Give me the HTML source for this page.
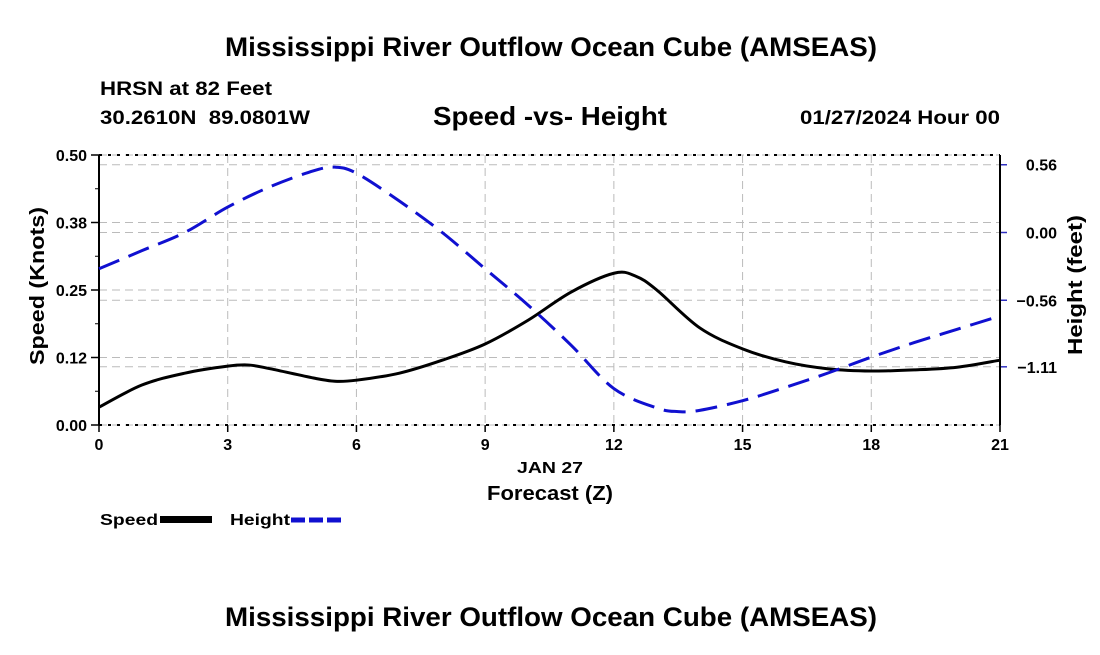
<!DOCTYPE html>
<html><head><meta charset="utf-8"><style>
body{margin:0;background:#fff;font-family:"Liberation Sans",sans-serif;}
svg text{font-family:"Liberation Sans",sans-serif;font-weight:bold;}
</style></head><body>
<svg width="1100" height="650" viewBox="0 0 1100 650">
<text x="225" y="56" font-size="27" textLength="652" lengthAdjust="spacingAndGlyphs">Mississippi River Outflow Ocean Cube (AMSEAS)</text>
<text x="100" y="95" font-size="19" textLength="172" lengthAdjust="spacingAndGlyphs">HRSN at 82 Feet</text>
<text x="100" y="124" font-size="19" textLength="210" lengthAdjust="spacingAndGlyphs" xml:space="preserve">30.2610N  89.0801W</text>
<text x="433" y="125" font-size="26" textLength="234" lengthAdjust="spacingAndGlyphs">Speed -vs- Height</text>
<text x="800" y="124" font-size="19" textLength="200" lengthAdjust="spacingAndGlyphs">01/27/2024 Hour 00</text>
<g id="grid"></g>
<g id="axes"></g>
<g id="series"></g>
<text x="517" y="473" font-size="16" textLength="66" lengthAdjust="spacingAndGlyphs">JAN 27</text>
<text x="487" y="500" font-size="20" textLength="126" lengthAdjust="spacingAndGlyphs">Forecast (Z)</text>
<text transform="translate(44,365) rotate(-90)" font-size="20" textLength="158" lengthAdjust="spacingAndGlyphs">Speed (Knots)</text>
<text transform="translate(1082,355) rotate(-90)" font-size="20" textLength="140" lengthAdjust="spacingAndGlyphs">Height (feet)</text>
<g><text x="100" y="525" font-size="16" textLength="58" lengthAdjust="spacingAndGlyphs">Speed</text><rect x="160" y="516" width="52" height="7" fill="#000"/></g>
<g><text x="230" y="525" font-size="16" textLength="60" lengthAdjust="spacingAndGlyphs">Height</text><line x1="291" y1="520" x2="343" y2="520" stroke="#1010d0" stroke-width="5" stroke-dasharray="14,4"/></g>
<text x="225" y="626" font-size="27" textLength="652" lengthAdjust="spacingAndGlyphs">Mississippi River Outflow Ocean Cube (AMSEAS)</text>
</svg>
<script>
const hours=[0,1,2,3,3.5,4,5,5.5,6,7,8,9,10,11,12,12.5,13,14,15,16,17,18,19,20,21];
const speed=[0.033,0.074,0.096,0.109,0.111,0.104,0.087,0.081,0.083,0.096,0.120,0.150,0.194,0.246,0.281,0.276,0.25,0.18,0.141,0.117,0.104,0.100,0.102,0.107,0.120];
const hHours=[0,1,2,3,4,5,5.5,6,7,8,9,10,11,12,13,13.5,14,15,16,17,18,19,20,21];
const height=[-0.30,-0.15,0,0.21,0.38,0.51,0.54,0.49,0.26,0,-0.30,-0.60,-0.93,-1.29,-1.45,-1.48,-1.47,-1.39,-1.28,-1.16,-1.03,-0.91,-0.80,-0.69];
const xTicks=[0,3,6,9,12,15,18,21];
const yTicks=[0,0.125,0.25,0.375,0.5];
const yTickLabels=["0.00","0.12","0.25","0.38","0.50"];
const y2Ticks=[0.56,0,-0.56,-1.11];
const y2TickLabels=["0.56","0.00","\u22120.56","\u22121.11"];
const L=99,R=1000,T=155,B=425;
const X=h=>L+(R-L)*h/21;
const Y=v=>B-(B-T)*v/0.5;
const Y2=v=>232.5-v*121;
const NS="http://www.w3.org/2000/svg";
function mk(t,a,p){const e=document.createElementNS(NS,t);for(const k in a)e.setAttribute(k,a[k]);p.appendChild(e);return e;}
const grid=document.getElementById('grid'),axes=document.getElementById('axes'),ser=document.getElementById('series');
xTicks.forEach(h=>{const l=mk('line',{x1:X(h),x2:X(h),y1:T,y2:B,stroke:'#bbb','stroke-dasharray':'8,5'},grid);

const t=mk('text',{x:X(h),y:B+25,'font-size':16,'text-anchor':'middle'},axes);t.textContent=h;

mk('line',{x1:X(h),x2:X(h),y1:B,y2:B+7,stroke:'#000','stroke-width':1.5},axes);});
yTicks.forEach((v,i)=>{const l=mk('line',{x1:L,x2:R,y1:Y(v),y2:Y(v),stroke:'#bbb','stroke-dasharray':'8,5'},grid);

const t=mk('text',{x:L-12,y:Y(v)+6,'font-size':16,'text-anchor':'end'},axes);t.textContent=yTickLabels[i];

mk('line',{x1:L-8,x2:L,y1:Y(v),y2:Y(v),stroke:'#000','stroke-width':1.5},axes);});
for(let v=0.0625;v<0.5;v+=0.125)mk('line',{x1:L-4,x2:L,y1:Y(v),y2:Y(v),stroke:'#000'},axes);
y2Ticks.forEach((v,i)=>{const l=mk('line',{x1:L,x2:R,y1:Y2(v),y2:Y2(v),stroke:'#bbb','stroke-dasharray':'8,5'},grid);

const t=mk('text',{x:1057,y:Y2(v)+6,'font-size':16,'text-anchor':'end'},axes);t.textContent=y2TickLabels[i];

mk('line',{x1:R,x2:R+7,y1:Y2(v),y2:Y2(v),stroke:'#3030c0','stroke-width':1.5},axes);});
mk('line',{x1:L,x2:R,y1:T,y2:T,stroke:'#000','stroke-width':2,'stroke-dasharray':'3,6'},axes);
mk('line',{x1:L,x2:R,y1:B,y2:B,stroke:'#000','stroke-width':2,'stroke-dasharray':'3,6'},axes);
mk('line',{x1:L,x2:L,y1:T,y2:B,stroke:'#000','stroke-width':2},axes);
mk('line',{x1:R,x2:R,y1:T,y2:B,stroke:'#000','stroke-width':2},axes);
function smooth(pts){let d='M'+pts[0][0]+','+pts[0][1];for(let i=0;i<pts.length-1;i++){const p0=pts[Math.max(0,i-1)],p1=pts[i],p2=pts[i+1],p3=pts[Math.min(pts.length-1,i+2)];
d+=' C'+(p1[0]+(p2[0]-p0[0])/6)+','+(p1[1]+(p2[1]-p0[1])/6)+' '+(p2[0]-(p3[0]-p1[0])/6)+','+(p2[1]-(p3[1]-p1[1])/6)+' '+p2[0]+','+p2[1];}return d;}
const sp=mk('path',{d:smooth(hours.map((h,i)=>[X(h),Y(speed[i])])),fill:'none',stroke:'#000','stroke-width':3},ser);

const hp=mk('path',{d:smooth(hHours.map((h,i)=>[X(h),Y2(height[i])])),fill:'none',stroke:'#1010d0','stroke-width':3,'stroke-dasharray':'22,10'},ser);

</script>
</body></html>
